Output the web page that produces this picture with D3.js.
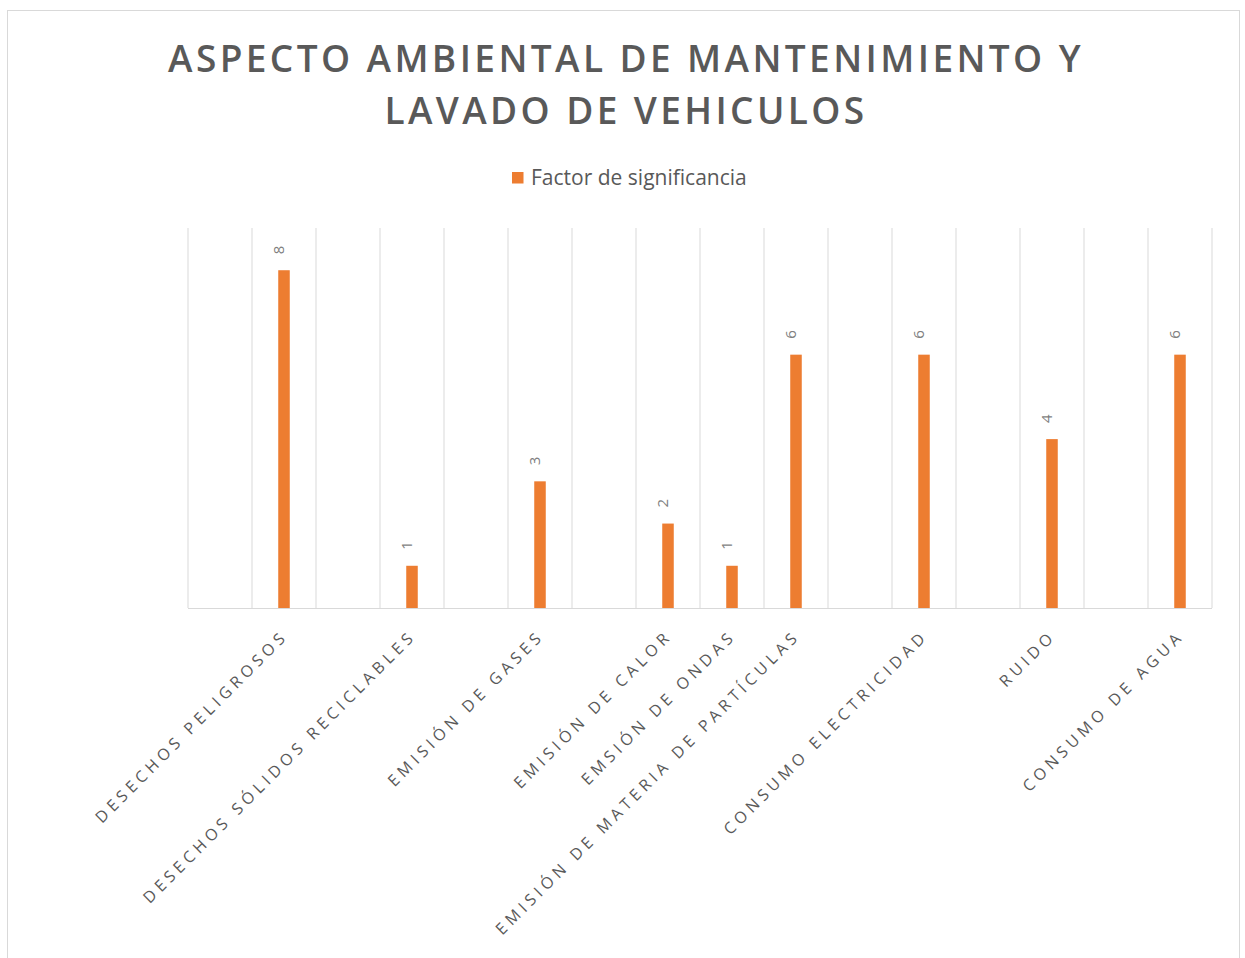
<!DOCTYPE html>
<html>
<head>
<meta charset="utf-8">
<script src="https://cdn.jsdelivr.net/npm/d3@7"></script>
<style>
  body { margin: 0; background: #fff; }
  svg { display: block; font-family: 'Open Sans', sans-serif; }
</style>
</head>
<body>
<div id="chart"></div>
<script>
// chart data (blank categories are empty rows in the source sheet)
const categories = ['', 'DESECHOS PELIGROSOS', '', 'DESECHOS SÓLIDOS RECICLABLES', '', 'EMISIÓN DE GASES', '',
  'EMISIÓN DE CALOR', 'EMSIÓN DE ONDAS', 'EMISIÓN DE MATERIA DE PARTÍCULAS', '', 'CONSUMO ELECTRICIDAD', '',
  'RUIDO', '', 'CONSUMO DE AGUA']
const values = [null, 8, null, 1, null, 3, null, 2, 1, 6, null, 6, null, 4, null, 6]
const seriesName = 'Factor de significancia'
const titleLines = ['ASPECTO AMBIENTAL DE MANTENIMIENTO Y', 'LAVADO DE VEHICULOS']
const yMax = 9

const W = 1245, H = 958
const plot = {left: 188, right: 1212, top: 228, bottom: 608}
const orange = '#ed7d31'

const svg = d3.select('#chart').append('svg').attr('width', W).attr('height', H)

// chart border
svg.append('rect').attr('x', 7.5).attr('y', 10.5).attr('width', 1232).attr('height', 960)
  .attr('fill', '#fff').attr('stroke', '#d9d9d9').attr('stroke-width', 1)

// title
svg.append('g').selectAll('text').data(titleLines).join('text')
  .attr('x', 626).attr('y', (d, i) => 72 + i * 52)
  .attr('text-anchor', 'middle')
  .style('font-size', '37px').style('font-weight', 600).style('letter-spacing', '3.4px')
  .attr('fill', '#595959')
  .text(d => d)

// legend
const legend = svg.append('g')
legend.append('rect').attr('x', 512).attr('y', 172).attr('width', 11.5).attr('height', 11.5).attr('fill', orange)
legend.append('text').attr('x', 531).attr('y', 185)
  .style('font-size', '21px').attr('fill', '#595959').text(seriesName)

// scales
const x = d3.scaleBand().domain(d3.range(categories.length))
  .range([plot.left, plot.right]).paddingInner(0.82).paddingOuter(0.41)
const y = d3.scaleLinear().domain([0, yMax]).range([plot.bottom, plot.top])

// vertical gridlines at category boundaries
const bounds = d3.range(categories.length + 1).map(i => plot.left + i * x.step())
svg.append('g').selectAll('line').data(bounds).join('line')
  .attr('x1', d => d).attr('x2', d => d)
  .attr('y1', plot.top).attr('y2', plot.bottom)
  .attr('stroke', '#d9d9d9').attr('stroke-width', 1)

// category axis line
svg.append('line').attr('x1', plot.left).attr('x2', plot.right)
  .attr('y1', plot.bottom + 0.5).attr('y2', plot.bottom + 0.5)
  .attr('stroke', '#d9d9d9').attr('stroke-width', 1.2)

const data = values.map((v, i) => ({i: i, v: v, name: categories[i]}))
const filled = data.filter(d => d.v != null)

// bars
svg.append('g').selectAll('rect').data(filled).join('rect')
  .attr('x', d => x(d.i)).attr('width', x.bandwidth())
  .attr('y', d => y(d.v)).attr('height', d => y(0) - y(d.v))
  .attr('fill', orange)

// data labels, rotated
svg.append('g').selectAll('text').data(filled).join('text')
  .attr('transform', d => 'translate(' + (x(d.i) + x.bandwidth() / 2) + ',' + (y(d.v) - 16) + ') rotate(-90)')
  .style('font-size', '15px').attr('fill', '#7f7f7f')
  .text(d => d.v)

// category labels at -45deg
svg.append('g').selectAll('text').data(data.filter(d => d.name !== '')).join('text')
  .attr('transform', d => 'translate(' + (x(d.i) + x.bandwidth() / 2 + 5) + ',' + 637 + ') rotate(-45)')
  .attr('text-anchor', 'end')
  .style('font-size', '16px').style('letter-spacing', '4.4px').attr('fill', '#595959')
  .text(d => d.name)
</script>
</body>
</html>
